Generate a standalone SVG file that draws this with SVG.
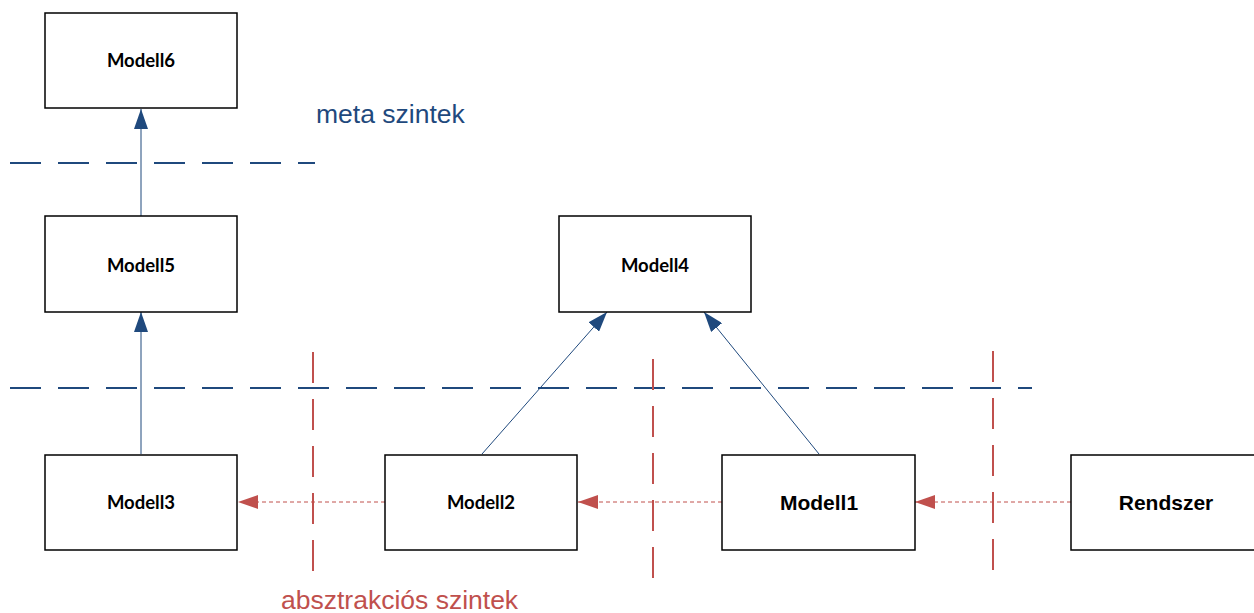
<svg xmlns="http://www.w3.org/2000/svg" width="1254" height="613" viewBox="0 0 1254 613">
<style>
.box{fill:#fff;stroke:#000;stroke-width:1.5}
.lbl{font-family:Lato,"Open Sans",sans-serif;font-weight:bold;font-size:18.5px;fill:#000;text-anchor:middle}
.lbla{font-family:"Liberation Sans",Arial,sans-serif;font-weight:bold;font-size:21px;fill:#000;text-anchor:middle}
.blue{stroke:#1F497D;stroke-width:1;fill:none}
.red{stroke:#C0504D;stroke-width:1;stroke-dasharray:4 3;fill:none}
.bdash{stroke:#1F497D;stroke-width:2;stroke-dasharray:31 17;fill:none}
.rdash{stroke:#C0504D;stroke-width:2;stroke-dasharray:31 16;fill:none}
.note{font-family:"Liberation Sans",Arial,sans-serif;font-size:26.5px}
</style>
<defs>
<marker id="ab" viewBox="0 0 20 14" refX="20" refY="7" markerWidth="20" markerHeight="14" markerUnits="userSpaceOnUse" orient="auto">
<path d="M0,0 L20,7 L0,14 Z" fill="#1F497D"/>
</marker>
<marker id="ar" viewBox="0 0 20 14" refX="20" refY="7" markerWidth="20" markerHeight="14" markerUnits="userSpaceOnUse" orient="auto">
<path d="M0,0 L20,7 L0,14 Z" fill="#C0504D"/>
</marker>
</defs>
<rect width="1254" height="613" fill="#fff"/>
<g id="levels">
<line class="bdash" x1="10" y1="163" x2="315" y2="163"/>
<line class="bdash" x1="10" y1="388" x2="1032" y2="388"/>
<line class="rdash" x1="313" y1="352" x2="313" y2="575"/>
<line class="rdash" x1="653" y1="359" x2="653" y2="578"/>
<line class="rdash" x1="993" y1="351" x2="993" y2="575"/>
</g>
<g id="connectors">
<line class="blue" x1="141" y1="216" x2="141" y2="109" marker-end="url(#ab)"/>
<line class="blue" x1="141" y1="454" x2="141" y2="312" marker-end="url(#ab)"/>
<line class="blue" x1="482" y1="454" x2="607" y2="312" marker-end="url(#ab)"/>
<line class="blue" x1="819" y1="454" x2="704" y2="312" marker-end="url(#ab)"/>
<line class="red" x1="385" y1="502" x2="238" y2="502" marker-end="url(#ar)"/>
<line class="red" x1="722" y1="502" x2="578" y2="502" marker-end="url(#ar)"/>
<line class="red" x1="1071" y1="502" x2="915" y2="502" marker-end="url(#ar)"/>
</g>
<g id="modell6"><rect class="box" x="45" y="13" width="192" height="95"/><text class="lbl" x="141" y="67">Modell6</text></g>
<g id="modell5"><rect class="box" x="45" y="216" width="192" height="96"/><text class="lbl" x="141" y="272">Modell5</text></g>
<g id="modell4"><rect class="box" x="559" y="216" width="192" height="96"/><text class="lbl" x="655" y="272">Modell4</text></g>
<g id="modell3"><rect class="box" x="45" y="455" width="192" height="95"/><text class="lbl" x="141" y="509">Modell3</text></g>
<g id="modell2"><rect class="box" x="385" y="455" width="192" height="95"/><text class="lbl" x="481" y="509">Modell2</text></g>
<g id="modell1"><rect class="box" x="722" y="455" width="193" height="95"/><text class="lbla" x="819" y="510">Modell1</text></g>
<g id="rendszer"><rect class="box" x="1071" y="455" width="190" height="95"/><text class="lbla" x="1166" y="510">Rendszer</text></g>
<g id="labels">
<text class="note" x="316" y="123" fill="#1F497D">meta szintek</text>
<text class="note" x="281" y="609" fill="#C0504D">absztrakciós szintek</text>
</g>
</svg>
